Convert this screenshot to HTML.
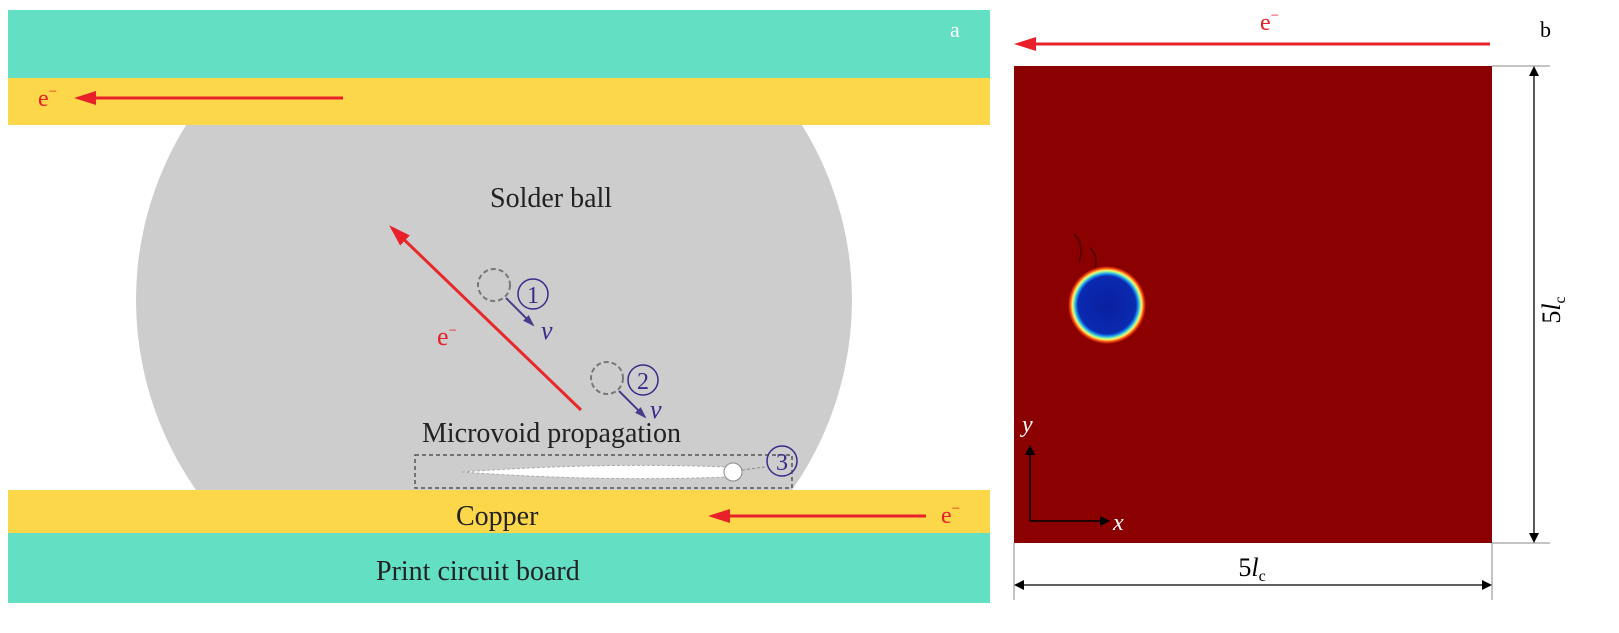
<!DOCTYPE html>
<html><head><style>body{margin:0;background:#fff}svg{display:block}text{font-family:"Liberation Serif",serif}</style></head><body>
<svg width="1619" height="633" viewBox="0 0 1619 633">
<defs>
<clipPath id="c"><rect x="0" y="125" width="1000" height="365"/></clipPath>
<radialGradient id="g" cx="0.5" cy="0.5" r="0.5">
<stop offset="0" stop-color="#0a1fa0"/><stop offset="0.74" stop-color="#0a2ab0"/><stop offset="0.8" stop-color="#1a8ff0"/><stop offset="0.85" stop-color="#7ff0b0"/><stop offset="0.89" stop-color="#fff060"/><stop offset="0.94" stop-color="#ff5010"/><stop offset="1" stop-color="#8b0000"/></radialGradient>
<marker id="ar" markerWidth="10" markerHeight="8" refX="8" refY="4" orient="auto" markerUnits="userSpaceOnUse"><path d="M0,0 L10,4 L0,8 Z" fill="#e8202a"/></marker>
<marker id="arb" markerWidth="22" markerHeight="14" refX="18" refY="7" orient="auto" markerUnits="userSpaceOnUse"><path d="M0,0 L22,7 L0,14 Z" fill="#e8202a"/></marker>
<marker id="ab" markerWidth="12" markerHeight="8" refX="10" refY="4" orient="auto" markerUnits="userSpaceOnUse"><path d="M0,0 L12,4 L0,8 Z" fill="#4a3a8a"/></marker>
<marker id="ak" markerWidth="10" markerHeight="10" refX="8" refY="5" orient="auto" markerUnits="userSpaceOnUse"><path d="M0,0 L10,5 L0,10 Z" fill="#000"/></marker>
<marker id="ak2" markerWidth="10" markerHeight="10" refX="8" refY="5" orient="auto-start-reverse" markerUnits="userSpaceOnUse"><path d="M0,0 L10,5 L0,10 Z" fill="#000"/></marker>
</defs>
<rect x="8" y="10" width="982" height="68" fill="#63dfc4"/>
<rect x="8" y="78" width="982" height="47" fill="#fdd74a"/>
<ellipse cx="494" cy="300" rx="358" ry="343" fill="#cdcdcd" clip-path="url(#c)"/>
<rect x="8" y="490" width="982" height="43" fill="#fdd74a"/>
<rect x="8" y="533" width="982" height="70" fill="#63dfc4"/>
<text x="950" y="37" font-size="22" fill="#fff">a</text>
<line x1="343" y1="98" x2="78" y2="98" stroke="#e8202a" stroke-width="3" marker-end="url(#arb)"/>
<text x="38" y="106" font-size="24" fill="#e8202a">e<tspan font-size="15" dy="-10">−</tspan></text>
<text x="490" y="207" font-size="28" fill="#222">Solder ball</text>
<line x1="581" y1="410" x2="392" y2="228" stroke="#e8282a" stroke-width="3" marker-end="url(#arb)"/>
<text x="437" y="345" font-size="26" fill="#e8202a">e<tspan font-size="15" dy="-10">−</tspan></text>
<circle cx="494" cy="285" r="16" fill="none" stroke="#777" stroke-width="2" stroke-dasharray="5,3"/>
<line x1="506" y1="298" x2="533" y2="325" stroke="#4a3a8a" stroke-width="2" marker-end="url(#ab)"/>
<circle cx="533" cy="294" r="15" fill="none" stroke="#3a2a8a" stroke-width="1.5"/>
<text x="533" y="303" font-size="24" fill="#3a2a8a" text-anchor="middle">1</text>
<text x="541" y="339" font-size="26" font-style="italic" fill="#3a2a8a">v</text>
<circle cx="607" cy="378" r="16" fill="none" stroke="#777" stroke-width="2" stroke-dasharray="5,3"/>
<line x1="619" y1="391" x2="645" y2="417" stroke="#4a3a8a" stroke-width="2" marker-end="url(#ab)"/>
<circle cx="643" cy="380" r="15" fill="none" stroke="#3a2a8a" stroke-width="1.5"/>
<text x="643" y="389" font-size="24" fill="#3a2a8a" text-anchor="middle">2</text>
<text x="650" y="418" font-size="26" font-style="italic" fill="#3a2a8a">v</text>
<text x="422" y="442" font-size="28" fill="#222">Microvoid propagation</text>
<rect x="415" y="455" width="377" height="33" fill="none" stroke="#555" stroke-width="1.5" stroke-dasharray="4,3"/>
<path d="M462,472 Q600,462 728,467 L728,477 Q600,482 462,472 Z" fill="#fff" stroke="#aaa" stroke-dasharray="3,2"/>
<circle cx="733" cy="472" r="9" fill="#fff" stroke="#888"/>
<line x1="742" y1="470" x2="765" y2="467" stroke="#888" stroke-dasharray="3,2"/>
<circle cx="782" cy="461" r="15" fill="none" stroke="#3a2a8a" stroke-width="1.5"/>
<text x="782" y="470" font-size="24" fill="#3a2a8a" text-anchor="middle">3</text>
<text x="456" y="525" font-size="28" fill="#222">Copper</text>
<line x1="926" y1="516" x2="712" y2="516" stroke="#e8202a" stroke-width="3" marker-end="url(#arb)"/>
<text x="941" y="523" font-size="24" fill="#e8202a">e<tspan font-size="15" dy="-10">−</tspan></text>
<text x="376" y="580" font-size="28" fill="#222">Print circuit board</text>
<rect x="1014" y="66" width="478" height="477" fill="#8b0000"/>
<circle cx="1107" cy="305" r="39" fill="url(#g)"/>
<path d="M1074,234 Q1085,245 1079,262 M1090,248 Q1098,255 1095,268" stroke="#5a0000" stroke-width="2" fill="none"/>
<text x="1540" y="37" font-size="22" fill="#000">b</text>
<line x1="1490" y1="44" x2="1018" y2="44" stroke="#e8202a" stroke-width="3" marker-end="url(#arb)"/>
<text x="1260" y="30" font-size="24" fill="#e8202a">e<tspan font-size="15" dy="-10">−</tspan></text>
<line x1="1030" y1="521" x2="1030" y2="447" stroke="#000" stroke-width="1.5" marker-end="url(#ak)"/>
<line x1="1030" y1="521" x2="1108" y2="521" stroke="#000" stroke-width="1.5" marker-end="url(#ak)"/>
<text x="1022" y="432" font-size="24" font-style="italic" fill="#fff">y</text>
<text x="1113" y="530" font-size="24" font-style="italic" fill="#fff">x</text>
<line x1="1492" y1="66" x2="1550" y2="66" stroke="#888" stroke-width="1"/>
<line x1="1492" y1="543" x2="1550" y2="543" stroke="#888" stroke-width="1"/>
<line x1="1534" y1="68" x2="1534" y2="541" stroke="#000" stroke-width="1.3" marker-start="url(#ak2)" marker-end="url(#ak2)"/>
<text x="0" y="0" font-size="26" transform="translate(1560,310) rotate(-90)" text-anchor="middle">5<tspan font-style="italic">l</tspan><tspan font-size="16" dy="5">c</tspan></text>
<line x1="1014" y1="543" x2="1014" y2="600" stroke="#888" stroke-width="1"/>
<line x1="1492" y1="543" x2="1492" y2="600" stroke="#888" stroke-width="1"/>
<line x1="1016" y1="585" x2="1490" y2="585" stroke="#000" stroke-width="1.3" marker-start="url(#ak2)" marker-end="url(#ak2)"/>
<text x="1252" y="576" font-size="26" text-anchor="middle">5<tspan font-style="italic">l</tspan><tspan font-size="16" dy="5">c</tspan></text>
</svg>
</body></html>
